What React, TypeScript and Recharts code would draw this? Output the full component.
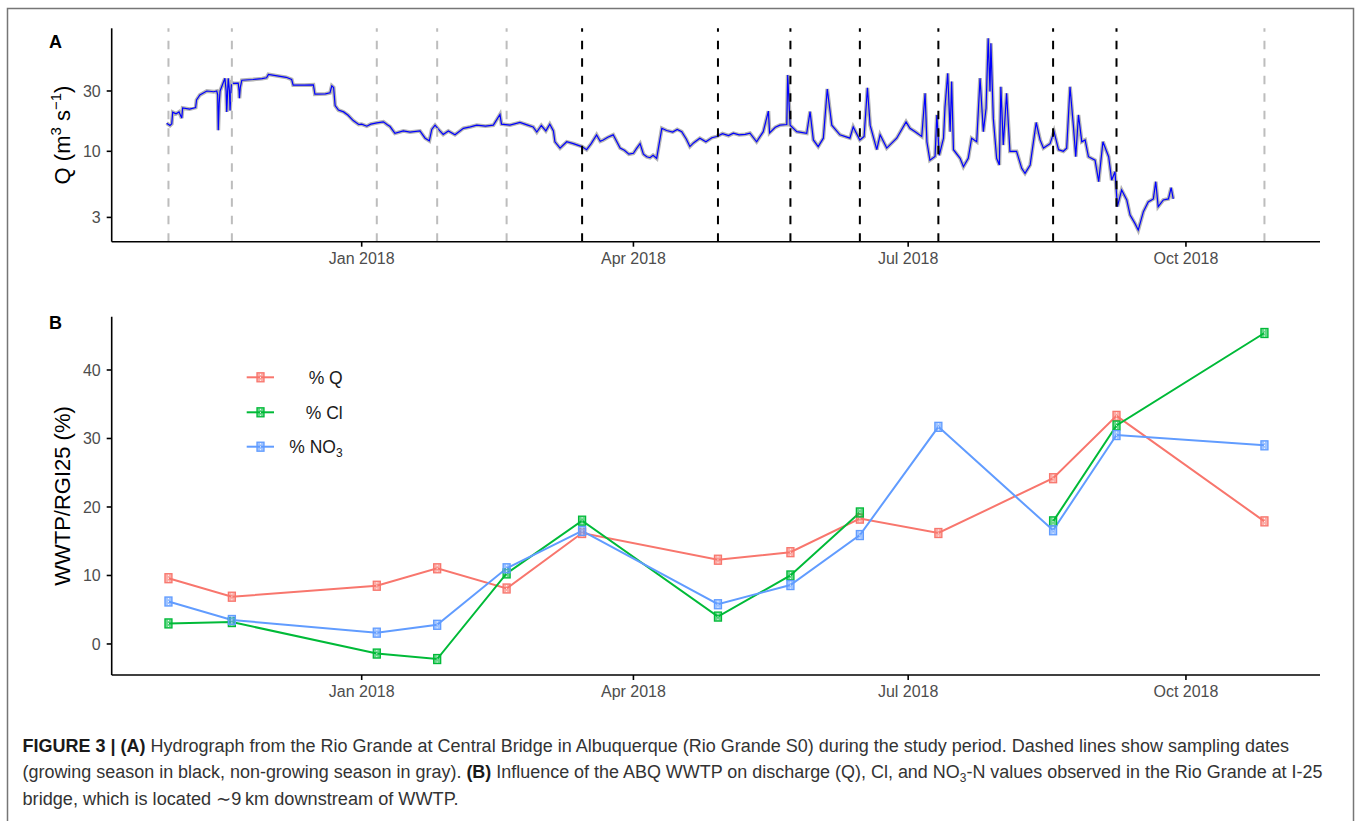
import React from "react";
import { ComposedChart, Line, XAxis, YAxis, ReferenceLine } from "recharts";

const FONT = "'Liberation Sans', Arial, Helvetica, sans-serif";

// days counted from 1 Jan 2018
const dateTicks = [0, 90, 181, 273];
const dateTickLabels = ["Jan 2018", "Apr 2018", "Jul 2018", "Oct 2018"];
const dayDomain: [number, number] = [-82.8, 317.4];

// sampling dates (dashed lines in A, points in B)
const sampleDays = [-64, -43, 5, 25, 48, 73, 118, 142, 165, 191, 229, 250, 299];
const growingSeason = [false, false, false, false, false, true, true, true, true, true, true, true, false];

// panel B, WWTP share at I-25 (%)
const pctQ = [9.6, 6.9, 8.5, 11.05, 8.1, 16.2, 12.3, 13.4, 18.3, 16.2, 24.2, 33.3, 17.9];
const pctCl = [3.0, 3.2, -1.4, -2.2, 10.3, 18.0, 4.0, 10.0, 19.2, null, 17.9, 31.9, 45.4];
const pctNO3 = [6.2, 3.5, 1.65, 2.8, 11.05, 16.5, 5.8, 8.6, 15.9, 31.7, 16.6, 30.5, 29.0];
const pctTicks = [0, 10, 20, 30, 40];

const flowTrace: [number, number][] = [
  [-64.6, 16.7], [-63.5, 16.0], [-62.9, 16.5], [-62.6, 20.4], [-61.5, 19.8], [-60.5, 20.5], [-59.6, 18.3],
  [-59.3, 22], [-57, 21.6], [-55, 22.2], [-54.7, 25.5], [-53.6, 27.9], [-51.3, 30], [-49, 29.6], [-48, 30],
  [-47.7, 28], [-47.5, 14.7], [-47.2, 24], [-46.9, 30], [-45.3, 37.8], [-44.9, 30], [-44.7, 20.5], [-44.4, 30],
  [-44.2, 37.8], [-43.8, 30], [-43.6, 21], [-43.3, 30], [-43.1, 35], [-42.5, 34.5], [-40.9, 34.6], [-40.6, 30],
  [-40.5, 26.3], [-40.2, 32], [-39.7, 36.5], [-36, 37], [-33, 37.6], [-31.5, 38.2], [-30.9, 40.6], [-28, 39.5],
  [-25, 38.5], [-23.2, 37], [-22.7, 33.4], [-19, 33.4], [-16, 33.6], [-15.5, 28.3], [-12, 28.5], [-10.5, 29],
  [-9.9, 33], [-9.3, 32], [-8.8, 23], [-7.7, 21.2], [-6, 20.5], [-4.5, 19.3], [-2.8, 17.5], [-1, 16.3],
  [0, 16.4], [1.7, 15.8], [3, 16.4], [5, 16.8], [7.2, 17.1], [8.5, 16.2], [9.4, 15.7], [11, 13.9],
  [13.8, 14.5], [16, 14.2], [19.3, 14.5], [21, 12.7], [22.4, 12.1], [23.2, 14.9], [24.3, 16.1], [25.9, 14.5],
  [27, 13.6], [28.7, 14.5], [30.9, 13.5], [33.7, 15.2], [36, 15.6], [38.1, 16.1], [41, 15.8], [43.6, 16.1],
  [45.8, 19.6], [46.3, 16.4], [49.1, 16.1], [52.4, 16.9], [55, 16.1], [56.8, 15.6], [58, 14.2], [59.5, 16],
  [61, 14.5], [62.3, 16.4], [63.5, 14.5], [64, 11.9], [65.7, 10.6], [67.9, 11.9], [70.1, 11.5], [72.9, 10.9],
  [74.5, 10.3], [76, 11.5], [77.8, 13.5], [79, 12], [80, 12.3], [81.5, 12.9], [83.3, 13.5], [85.6, 10.6],
  [87, 10.2], [88.5, 9.5], [90, 9.64], [91, 10.5], [92.2, 11.5], [93.3, 9.5], [94.4, 9.06], [95.5, 8.9],
  [96.5, 9.3], [97.7, 8.8], [99.4, 15.2], [101, 14.6], [103, 14.2], [104.5, 14.9], [106, 14.3], [107.5, 12.5],
  [108.7, 10.9], [110, 11.7], [112, 12.7], [114, 11.9], [116, 12.8], [117.6, 13.1], [119.5, 13.8], [121.5, 13.3],
  [123.1, 13.9], [125, 13.5], [127, 13.6], [128.6, 13.9], [130.8, 11.9], [133, 14.3], [134.7, 20.8], [135.1, 14],
  [137, 15.5], [138.5, 16.1], [140.8, 16.3], [141.1, 40.2], [141.9, 16.1], [144.1, 14.3], [147.4, 13.9], [148.5, 20.6],
  [149.6, 12.3], [151.2, 10.9], [152.9, 12.7], [154.2, 31.1], [155.7, 16.1], [158.4, 13.5], [161.7, 12.7], [162.8, 15.6],
  [165, 12.3], [166.4, 13.1], [167.5, 31.8], [168.4, 16.1], [170.6, 10.3], [171.7, 13.5], [173.9, 10.6], [177.2, 12.7],
  [180.3, 17.1], [181.6, 15.2], [183.3, 14.3], [185.5, 13.1], [186.6, 28.8], [187.2, 11.9], [188.2, 8.5], [189.9, 9.1],
  [190.5, 19.4], [191.3, 9.3], [192.7, 12.7], [193.2, 22.5], [194.1, 41.4], [194.9, 14.3], [195.4, 35.6], [196, 10.3],
  [198.2, 8.8], [199.3, 7.55], [200.9, 8.8], [202, 12.7], [203.7, 11.9], [204.8, 37.9], [205.9, 14.3], [206.8, 21.9],
  [207.5, 78.3], [208.1, 29.7], [208.4, 71.5], [209.2, 18.2], [210.3, 8.8], [211.2, 7.8], [211.7, 32.4], [212.5, 11.2],
  [213.6, 28.8], [214.7, 10], [216.9, 10], [218.6, 7.33], [219.7, 6.7], [221.4, 7.8], [223.4, 16.9], [224.7, 12.3],
  [225.8, 10.6], [228, 11.5], [229.3, 14.3], [230.8, 10.3], [232.4, 10], [233.5, 10.6], [234.6, 32.4], [235.7, 16.1],
  [236.5, 9.06], [237.4, 19.4], [238.5, 11.9], [239.6, 12.3], [240.7, 9.06], [242.9, 8.5], [244.1, 5.75], [245.5, 11.9],
  [247.4, 9.06], [248.4, 5.9], [249.5, 6.9], [250.3, 3.65], [251.7, 4.94], [253.4, 4.12], [254.5, 3.13], [256.1, 2.69],
  [257.2, 2.38], [258.9, 3.33], [260.5, 3.98], [262.2, 4.2], [263, 5.75], [263.8, 3.65], [265.5, 4.12], [267.2, 4.2],
  [268.1, 5.15], [268.8, 4.2],
];
const qTicks = [3, 10, 30];

const series = [
  { key: "q", name: "% Q", color: "#F8766D" },
  { key: "cl", name: "% Cl", color: "#00BA38" },
  { key: "no3", name: "% NO3", color: "#619CFF" },
];

const flowData = flowTrace.map(([d, q]) => ({ d, q }));
const pctData = sampleDays.map((d, i) => ({ d, q: pctQ[i], cl: pctCl[i], no3: pctNO3[i] }));

const tickStyle = { fill: "#4d4d4d", fontSize: 16, fontFamily: FONT };
const dayLabel = (v: number) => dateTickLabels[dateTicks.indexOf(v)] ?? "";

function boxPlus(color: string) {
  return (p: any) => {
    const { cx, cy, value, index } = p;
    if (value == null || cx == null || cy == null) return <g key={"n" + index} />;
    return (
      <g key={"m" + index}>
        <rect x={cx - 3.5} y={cy - 4.5} width={7} height={9} fill={color} fillOpacity={0.6} stroke={color} strokeWidth={1.3} />
        <line x1={cx} y1={cy - 3.5} x2={cx} y2={cy + 3.5} stroke="#fff" strokeWidth={0.9} strokeDasharray="1.2 1.8" />
      </g>
    );
  };
}

function LegendMark({ color, y }: { color: string; y: number }) {
  return (
    <g>
      <line x1={246.7} x2={274} y1={y} y2={y} stroke={color} strokeWidth={2} />
      <rect x={257} y={y - 4.5} width={7} height={9} fill={color} fillOpacity={0.6} stroke={color} strokeWidth={1.3} />
      <line x1={260.5} x2={260.5} y1={y - 3.5} y2={y + 3.5} stroke="#fff" strokeWidth={0.9} strokeDasharray="1.2 1.8" />
    </g>
  );
}

export default function App() {
  const axisLine = { stroke: "#000", strokeWidth: 1.6 };
  return (
    <div style={{ position: "absolute", left: 0, top: 0, width: 1358, height: 821, background: "#fff", fontFamily: FONT }}>
      <div style={{ position: "absolute", left: 0, top: 0 }}>
        <ComposedChart width={1358} height={300} data={flowData} margin={{ top: 28.3, right: 38, bottom: 18.3, left: 51.7 }}>
          <XAxis dataKey="d" type="number" domain={dayDomain} ticks={dateTicks} tickFormatter={dayLabel}
            allowDataOverflow height={40} axisLine={axisLine} tickLine={axisLine} tickSize={5} tickMargin={6} tick={tickStyle} />
          <YAxis type="number" scale="log" domain={[1.927, 94]} ticks={qTicks} allowDataOverflow width={60}
            axisLine={axisLine} tickLine={axisLine} tickSize={5} tickMargin={6} tick={tickStyle} />
          <Line dataKey="q" type="linear" stroke="#b4b4b4" strokeWidth={3.8} dot={false} activeDot={false} isAnimationActive={false} />
          <Line dataKey="q" type="linear" stroke="#0000ff" strokeWidth={1.2} dot={false} activeDot={false} isAnimationActive={false} />
          {sampleDays.map((d, i) => (
            <ReferenceLine key={d} x={d} stroke={growingSeason[i] ? "#000" : "#bdbdbd"} strokeWidth={2} strokeDasharray="8.5 9" />
          ))}
        </ComposedChart>
      </div>
      <div style={{ position: "absolute", left: 0, top: 290 }}>
        <ComposedChart width={1358} height={430} data={pctData} margin={{ top: 26.7, right: 38, bottom: 5, left: 51.7 }}>
          <XAxis dataKey="d" type="number" domain={dayDomain} ticks={dateTicks} tickFormatter={dayLabel}
            allowDataOverflow height={40} axisLine={axisLine} tickLine={axisLine} tickSize={5} tickMargin={6} tick={tickStyle} />
          <YAxis type="number" domain={[-4.53, 47.78]} ticks={pctTicks} allowDataOverflow width={60}
            axisLine={axisLine} tickLine={axisLine} tickSize={5} tickMargin={6} tick={tickStyle} />
          {series.map((s) => (
            <Line key={s.key} dataKey={s.key} name={s.name} type="linear" stroke={s.color} strokeWidth={2}
              dot={boxPlus(s.color)} activeDot={false} isAnimationActive={false} connectNulls={false} />
          ))}
        </ComposedChart>
      </div>
      <svg width={1358} height={821} style={{ position: "absolute", left: 0, top: 0, pointerEvents: "none" }} fontFamily={FONT}>
        <rect x={7.5} y={8.5} width={1346} height={830} fill="none" stroke="#767676" strokeWidth={1.5} />
        <text x={49} y={47.5} fontSize={18} fontWeight="bold" fill="#000">A</text>
        <text x={49} y={328.5} fontSize={18} fontWeight="bold" fill="#000">B</text>
        <text transform="rotate(-90 70 135)" x={70} y={135} textAnchor="middle" fontSize={22} fill="#000">
          Q (m<tspan fontSize={15} dy={-9}>3</tspan><tspan dy={9}> s</tspan><tspan fontSize={15} dy={-9}>−1</tspan><tspan dy={9}>)</tspan>
        </text>
        <text transform="rotate(-90 70 496)" x={70} y={496} textAnchor="middle" fontSize={22} fill="#000">WWTP/RGI25 (%)</text>
        {series.map((s, i) => {
          const y = [377.3, 412.3, 446.7][i];
          return (
            <g key={s.key}>
              <LegendMark color={s.color} y={y} />
              <text x={342.7} y={y + 6.3} textAnchor="end" fontSize={17.5} fill="#1a1a1a">
                {s.key === "no3" ? (<>% NO<tspan fontSize={12} dy={4}>3</tspan></>) : s.name}
              </text>
            </g>
          );
        })}
        <text x={22.5} y={751.7} fontSize={18} fill="#333" textLength={1266.5} lengthAdjust="spacingAndGlyphs">
          <tspan fontWeight="bold" fill="#1a1a1a">FIGURE 3 | (A)</tspan>
          {" Hydrograph from the Rio Grande at Central Bridge in Albuquerque (Rio Grande S0) during the study period. Dashed lines show sampling dates"}
        </text>
        <text x={22.5} y={778.3} fontSize={18} fill="#333" textLength={1300} lengthAdjust="spacingAndGlyphs">
          {"(growing season in black, non-growing season in gray). "}
          <tspan fontWeight="bold" fill="#1a1a1a">(B)</tspan>
          {" Influence of the ABQ WWTP on discharge (Q), Cl, and NO"}
          <tspan fontSize={12} dy={4}>3</tspan>
          <tspan dy={-4}>{"-N values observed in the Rio Grande at I-25"}</tspan>
        </text>
        <text x={22.5} y={804.7} fontSize={18} fill="#333" textLength={436} lengthAdjust="spacingAndGlyphs">
          {"bridge, which is located \u223c9\u2009km downstream of WWTP."}
        </text>
      </svg>
    </div>
  );
}
